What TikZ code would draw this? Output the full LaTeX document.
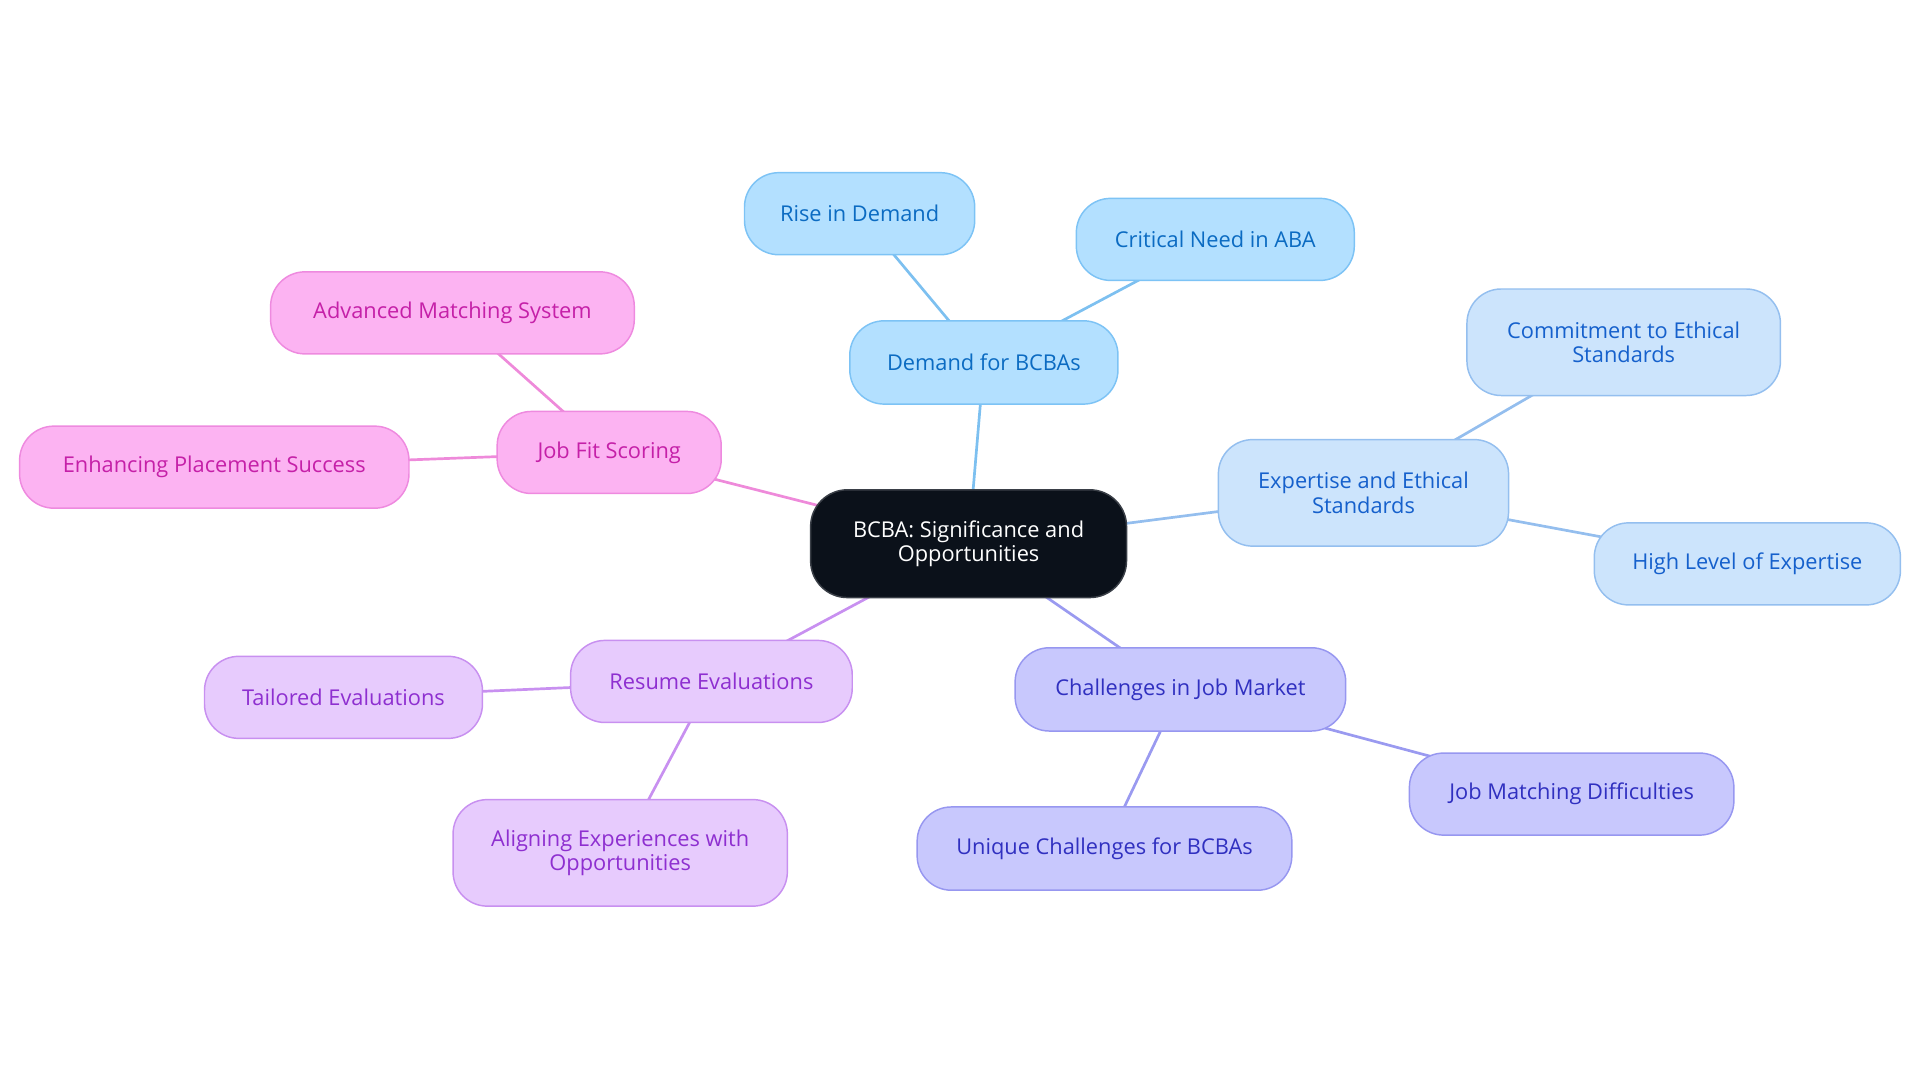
\documentclass[tikz,border=0pt]{standalone}
\usepackage{fontspec}
\setmainfont{Open Sans}
\usetikzlibrary{backgrounds}
\definecolor{bAfill}{HTML}{B3E0FF}\definecolor{bAdraw}{HTML}{7DC3F5}\definecolor{bAtext}{HTML}{0B6BC2}\definecolor{bAline}{HTML}{7DC0F0}
\definecolor{bBfill}{HTML}{CCE4FC}\definecolor{bBdraw}{HTML}{94BFEF}\definecolor{bBtext}{HTML}{1560CC}\definecolor{bBline}{HTML}{94BEEE}
\definecolor{lvfill}{HTML}{C8C8FD}\definecolor{lvdraw}{HTML}{9797F0}\definecolor{lvtext}{HTML}{3030C0}\definecolor{lvline}{HTML}{9A9AF0}
\definecolor{ppfill}{HTML}{E7CBFD}\definecolor{ppdraw}{HTML}{C890F0}\definecolor{pptext}{HTML}{8E2FD0}\definecolor{ppline}{HTML}{C890F0}
\definecolor{pkfill}{HTML}{FCB3F2}\definecolor{pkdraw}{HTML}{EE8ADF}\definecolor{pktext}{HTML}{C520A8}\definecolor{pkline}{HTML}{EE8ADA}
\definecolor{ctfill}{HTML}{0B111A}\definecolor{ctdraw}{HTML}{3A3F47}
\tikzset{
  box/.style={rectangle, rounded corners=28pt, line width=1.2pt, inner sep=0pt, align=center,
    font=\fontsize{17.8}{20}\selectfont},
  bA/.style={box, fill=bAfill, draw=bAdraw, text=bAtext},
  bB/.style={box, fill=bBfill, draw=bBdraw, text=bBtext},
  lv/.style={box, fill=lvfill, draw=lvdraw, text=lvtext},
  pp/.style={box, fill=ppfill, draw=ppdraw, text=pptext},
  pk/.style={box, fill=pkfill, draw=pkdraw, text=pktext},
  ct/.style={box, fill=ctfill, draw=ctdraw, text=white, rounded corners=30pt},
  link/.style={line width=2.2pt},
}
\begin{document}
\begin{tikzpicture}[x=1pt,y=-1pt]
\useasboundingbox (0,0) rectangle (1568,884.4);
\node[ct, minimum width=258pt, minimum height=88pt] (c) at (791,444) {BCBA: Significance and\\Opportunities};
\node[bA, minimum width=219pt, minimum height=68pt] (dem) at (803.5,296) {Demand for BCBAs};
\node[bA, minimum width=188pt, minimum height=67pt] (rise) at (702,174.5) {Rise in Demand};
\node[bA, minimum width=227pt, minimum height=67pt] (crit) at (992.5,195.5) {Critical Need in ABA};
\node[bB, minimum width=237pt, minimum height=87pt] (exp) at (1113.5,402.5) {Expertise and Ethical\\Standards};
\node[bB, minimum width=256pt, minimum height=87pt] (comm) at (1326,279.5) {Commitment to Ethical\\Standards};
\node[bB, minimum width=250pt, minimum height=67pt] (high) at (1427,460.5) {High Level of Expertise};
\node[lv, minimum width=270pt, minimum height=68pt] (chal) at (964,563) {Challenges in Job Market};
\node[lv, minimum width=265pt, minimum height=67pt] (jmd) at (1283.5,648.5) {Job Matching Difficulties};
\node[lv, minimum width=306pt, minimum height=68pt] (uniq) at (902,693) {Unique Challenges for BCBAs};
\node[pp, minimum width=230pt, minimum height=67pt] (res) at (581,556.5) {Resume Evaluations};
\node[pp, minimum width=227pt, minimum height=67pt] (tail) at (280.5,569.5) {Tailored Evaluations};
\node[pp, minimum width=273pt, minimum height=87pt] (align) at (506.5,696.5) {Aligning Experiences with\\Opportunities};
\node[pk, minimum width=183pt, minimum height=67pt] (jfs) at (497.5,369.5) {Job Fit Scoring};
\node[pk, minimum width=297pt, minimum height=67pt] (adv) at (369.5,255.5) {Advanced Matching System};
\node[pk, minimum width=318pt, minimum height=67pt] (enh) at (175,381.5) {Enhancing Placement Success};
\begin{scope}[on background layer]
\draw[link, bAline] (c.center) -- (dem.center);
\draw[link, bAline] (dem.center) -- (rise.center);
\draw[link, bAline] (dem.center) -- (crit.center);
\draw[link, bBline] (c.center) -- (exp.center);
\draw[link, bBline] (exp.center) -- (comm.center);
\draw[link, bBline] (exp.center) -- (high.center);
\draw[link, lvline] (c.center) -- (chal.center);
\draw[link, lvline] (chal.center) -- (jmd.center);
\draw[link, lvline] (chal.center) -- (uniq.center);
\draw[link, ppline] (c.center) -- (res.center);
\draw[link, ppline] (res.center) -- (tail.center);
\draw[link, ppline] (res.center) -- (align.center);
\draw[link, pkline] (c.center) -- (jfs.center);
\draw[link, pkline] (jfs.center) -- (adv.center);
\draw[link, pkline] (jfs.center) -- (enh.center);
\end{scope}
\end{tikzpicture}
\end{document}
